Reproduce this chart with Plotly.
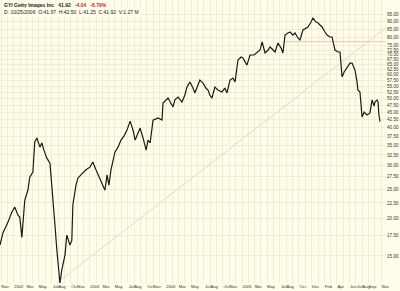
import plotly.graph_objects as go
import pandas as pd
import math

# ---- data ----
dates = [
    "2001-10-26","2001-11-09","2001-12-03","2001-12-22","2002-01-05","2002-01-20","2002-01-29","2002-02-08",
    "2002-02-22","2002-03-09","2002-03-18","2002-04-02","2002-04-11","2002-04-21","2002-05-06","2002-05-15",
    "2002-05-25","2002-06-08","2002-06-23","2002-07-02","2002-07-17","2002-07-26","2002-08-05","2002-08-10",
    "2002-08-19","2002-09-03","2002-09-12","2002-09-27","2002-10-06","2002-10-11","2002-10-26","2002-11-04",
    "2002-11-23","2002-12-13","2003-01-01","2003-01-15","2003-01-30","2003-02-18","2003-03-04","2003-03-14",
    "2003-03-24","2003-04-02","2003-04-12","2003-05-01","2003-05-16","2003-05-30","2003-06-14","2003-06-28",
    "2003-07-13","2003-07-27","2003-08-06","2003-08-20","2003-08-30","2003-09-13","2003-09-28","2003-10-07",
    "2003-10-17","2003-10-31","2003-11-24","2003-12-13","2003-12-18","2004-01-11","2004-02-04","2004-02-13",
    "2004-02-28","2004-03-18","2004-04-01","2004-04-11","2004-04-25","2004-05-10","2004-05-19","2004-06-03",
    "2004-06-12","2004-06-27","2004-07-11","2004-07-21","2004-07-30","2004-08-09","2004-08-23","2004-09-07",
    "2004-09-26","2004-10-10","2004-10-20","2004-11-04","2004-11-18","2004-11-28","2004-12-12","2004-12-27",
    "2005-01-05","2005-01-24","2005-02-08","2005-02-27","2005-03-13","2005-03-28","2005-04-07","2005-04-21",
    "2005-05-06","2005-05-15","2005-05-30","2005-06-08","2005-06-22","2005-07-07","2005-07-16","2005-07-26",
    "2005-08-09","2005-08-19","2005-09-02","2005-09-12","2005-09-26","2005-10-06","2005-10-20","2005-11-04",
    "2005-11-13","2005-11-28","2005-12-07","2005-12-22","2006-01-01","2006-01-10","2006-01-20","2006-02-03",
    "2006-02-13","2006-02-27","2006-03-09","2006-03-23","2006-04-07","2006-04-16","2006-04-26","2006-05-06",
    "2006-05-20","2006-06-03","2006-06-13","2006-06-27","2006-07-07","2006-07-11","2006-07-21","2006-07-31",
    "2006-08-10","2006-08-24","2006-09-07","2006-09-17","2006-09-27","2006-10-01","2006-10-11","2006-10-16",
    "2006-10-20","2006-10-25",
]
prices = [
    16.3,17.9,19.4,21.0,21.8,20.5,20.2,17.3,
    23.0,24.8,27.4,28.5,35.9,37.0,34.5,35.6,
    33.7,31.7,30.5,24.8,19.0,15.7,13.0,12.2,
    13.5,15.1,17.6,16.3,16.9,22.2,25.8,27.2,
    28.1,29.0,29.6,30.8,29.0,27.2,25.8,24.8,
    27.9,25.8,29.0,33.2,34.5,36.4,37.6,39.3,
    42.1,39.3,36.4,38.5,39.9,37.0,33.7,36.4,
    35.6,42.4,43.1,42.4,48.3,50.2,46.9,49.5,
    50.6,48.7,51.4,54.6,56.8,54.2,52.2,55.5,
    57.6,56.3,54.2,53.4,51.4,50.2,54.6,53.4,
    52.6,54.2,52.2,57.6,58.5,56.8,67.2,68.7,
    68.2,64.6,69.8,69.8,70.9,72.5,77.1,70.9,
    72.5,74.2,72.5,71.4,76.5,73.6,70.9,81.3,
    82.6,83.2,81.3,82.6,79.5,78.3,84.5,85.8,
    86.5,89.8,92.6,89.8,89.2,87.8,86.5,83.2,
    81.3,80.1,80.1,72.5,71.4,71.4,59.0,61.3,
    63.7,65.6,65.6,62.2,56.8,53.4,52.6,43.4,
    45.1,44.1,44.8,49.5,47.2,48.7,49.5,48.7,
    44.1,41.92,
]

trend_dates = ["2002-07-26", "2006-11-23"]
trend_prices = [12.2, 86.1]
resist_dates = ["2005-07-26", "2006-11-23"]
resist_prices = [77.3, 77.3]

price_ticks = [95, 90, 85, 80, 75, 72.5, 70, 67.5, 65, 62.5, 60, 57.5, 55, 52.5, 50, 47.5, 45,
               42.5, 40, 37.5, 35, 32.5, 30, 27.5, 25, 22.5, 20, 17.5, 15]

month_labels = [("2001-11-01", "Nov"), ("2002-01-01", "2002"), ("2002-03-01", "Mar"), ("2002-05-01", "May"),
                ("2002-07-01", "Jul"), ("2002-08-01", "Aug"), ("2002-10-01", "Oct"), ("2002-11-01", "Nov"),
                ("2003-01-01", "2003"), ("2003-03-01", "Mar"), ("2003-05-01", "May"), ("2003-07-01", "Jul"),
                ("2003-08-01", "Aug"), ("2003-10-01", "Oct"), ("2003-11-01", "Nov"), ("2004-01-01", "2004"),
                ("2004-03-01", "Mar"), ("2004-05-01", "May"), ("2004-07-01", "Jul"), ("2004-08-01", "Aug"),
                ("2004-10-01", "Oct"), ("2004-11-01", "Nov"), ("2005-01-01", "2005"), ("2005-03-01", "Mar"),
                ("2005-05-01", "May"), ("2005-07-01", "Jul"), ("2005-08-01", "Aug"), ("2005-10-01", "Oct"),
                ("2005-12-01", "Dec"), ("2006-02-01", "Feb"), ("2006-04-01", "Apr"), ("2006-06-01", "Jun"),
                ("2006-07-01", "Jul"), ("2006-08-01", "Aug"), ("2006-09-01", "Sep"), ("2006-11-01", "Nov")]

BG = "#FEFDEA"
GRID = "#F0EDD2"
x_range = ["2001-10-26", "2006-11-23"]
LABEL_SIZE = 4.2
DAYS_PER_PX = (pd.Timestamp(x_range[1]) - pd.Timestamp(x_range[0])).days / 386.0

fig = go.Figure()
fig.add_trace(go.Scatter(x=trend_dates, y=trend_prices, mode="lines",
                         line=dict(color="#E4D7D2", width=1), hoverinfo="skip"))
fig.add_trace(go.Scatter(x=resist_dates, y=resist_prices, mode="lines",
                         line=dict(color="#F2C6B8", width=1), hoverinfo="skip"))
fig.add_trace(go.Scatter(x=dates, y=prices, mode="lines",
                         line=dict(color="#1A1A1A", width=1.2)))
fig.add_trace(go.Scatter(x=[x_range[0]], y=[20], xaxis="x2", mode="markers",
                         marker=dict(opacity=0), hoverinfo="skip"))

grid_months = pd.date_range("2001-11-01", "2006-11-01", freq="MS")
label_pos = []
for d, t in month_labels:
    w = len(t) * 0.48 * LABEL_SIZE
    label_pos.append(pd.Timestamp(d) + pd.Timedelta(days=(0.8 + w / 2) * DAYS_PER_PX))

fig.update_layout(
    width=400, height=291, showlegend=False,
    margin=dict(l=0, r=14, t=0, b=8),
    paper_bgcolor=BG, plot_bgcolor=BG,
    font=dict(family="Liberation Sans Narrow, Liberation Sans", size=5, color="#333333"),
    xaxis=dict(type="date", range=x_range, tickvals=list(grid_months), showticklabels=False,
               showgrid=True, gridcolor=GRID, gridwidth=1, zeroline=False, showline=False, ticks=""),
    xaxis2=dict(type="date", range=x_range, overlaying="x", anchor="y", side="bottom",
                tickvals=label_pos, ticktext=[t for _, t in month_labels], showgrid=False,
                zeroline=False, ticks="", tickfont=dict(size=LABEL_SIZE), tickangle=0),
    yaxis=dict(type="log", range=[math.log10(12.2), math.log10(106.3)], side="right",
               tickvals=price_ticks, ticktext=[f"{v:.2f}" for v in price_ticks],
               showgrid=True, gridcolor=GRID, gridwidth=1, zeroline=False, ticks="",
               tickfont=dict(size=4.6)),
)

fig.add_annotation(xref="paper", yref="paper", x=0.005, y=1.0, xanchor="left", yanchor="top",
                   showarrow=False, align="left",
                   text="<b>GYI Getty Images Inc</b>   <b>41.92</b>   <span style='color:#E02020'><b>-4.04   -8.79%</b></span>",
                   font=dict(size=5, color="#222222"), bgcolor=BG)
fig.add_annotation(xref="paper", yref="paper", x=0.005, y=0.975, xanchor="left", yanchor="top",
                   showarrow=False, align="left",
                   text="D: 10/25/2006  O:41.97  H:42.50  L:41.25  C:41.92  V:1.27 M",
                   font=dict(size=5, color="#222222"), bgcolor=BG)

fig.write_html("out.html")
